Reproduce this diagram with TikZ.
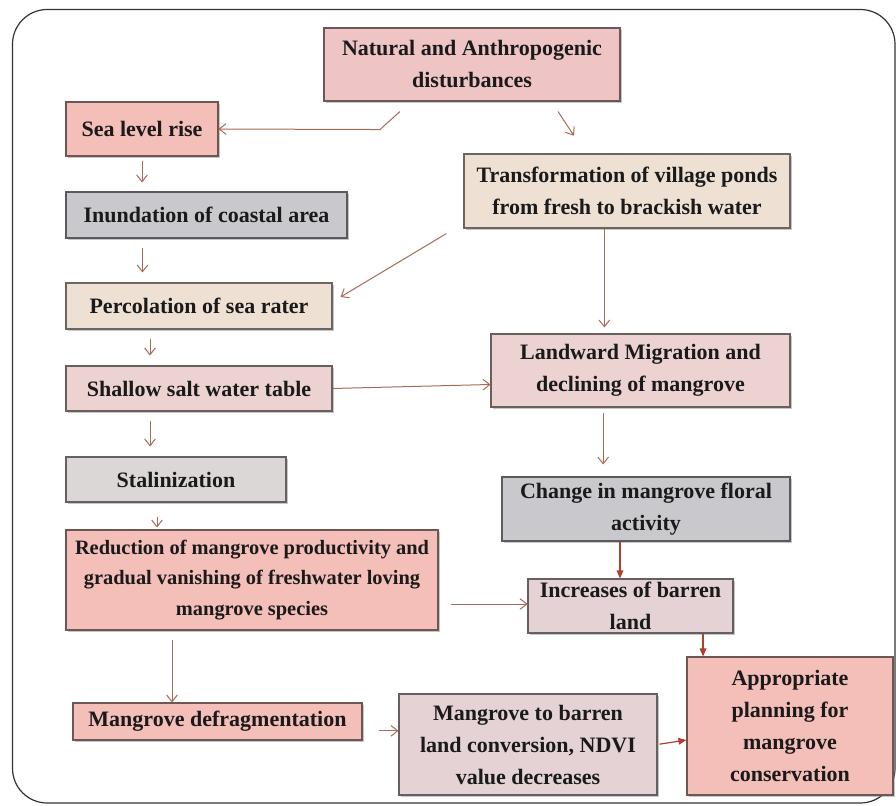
\documentclass[tikz,border=0pt]{standalone}
\usepackage{fontspec}
\setmainfont{Liberation Serif}
\usetikzlibrary{arrows.meta,shadows}
\definecolor{pinkN}{HTML}{EFC4C4}
\definecolor{pinkR}{HTML}{F4BEB9}
\definecolor{greyD}{HTML}{C8C8CD}
\definecolor{beige}{HTML}{EEE1D4}
\definecolor{pinkL}{HTML}{ECD2D0}
\definecolor{greyL}{HTML}{DCD7D7}
\definecolor{mauve}{HTML}{E4D2D4}
\definecolor{arrc}{HTML}{A56B55}
\definecolor{arrd}{HTML}{B0402C}
\definecolor{txt}{HTML}{1A1A1A}
\begin{document}
\begin{tikzpicture}[x=0.75pt,y=-0.75pt,
  font=\bfseries\fontsize{16.5}{24}\selectfont,
  box/.style n args={3}{draw=#1!45!black, fill=#1, minimum width=#2*0.75pt,
    minimum height=#3*0.75pt, align=center, inner sep=1pt, line width=0.8pt,
    text=txt, drop shadow={shadow xshift=1.3pt, shadow yshift=-1.3pt, opacity=0.45}},
  arr/.style={draw=arrc, line width=0.75pt, -{Straight Barb[length=5pt,width=8pt]}},
  arrf/.style={draw=arrd, line width=0.9pt, -{Triangle[length=6pt,width=5pt]}}]
\useasboundingbox (0,0) rectangle (896,806);
\draw[draw=black!80, line width=0.9pt, rounded corners=26pt] (12.5,9.5) rectangle (895,803);

\node[box={pinkN}{296}{73}] (nat) at (472,64.5) {Natural and Anthropogenic\\disturbances};
\node[box={pinkR}{152}{54}] (sea) at (142,129) {Sea level rise};
\node[box={greyD}{281}{46}] (inu) at (206.5,215) {Inundation of coastal area};
\node[box={beige}{326}{74}] (tra) at (627,191) {Transformation of village ponds\\from fresh to brackish water};
\node[box={beige}{266}{46}] (per) at (199,306) {Percolation of sea rater};
\node[box={pinkL}{266}{45}] (sha) at (199,388.5) {Shallow salt water table};
\node[box={pinkL}{299}{73}] (lan) at (640.5,370.5) {Landward Migration and\\declining of mangrove};
\node[box={greyL}{220}{45}] (sta) at (176,479.5) {Stalinization};
\node[box={greyD}{288}{64}] (cha) at (646,509) {Change in mangrove floral\\activity};
\node[box={pinkR}{372}{100}, font=\bfseries\fontsize{15.3}{23}\selectfont] (red) at (252,580) {Reduction of mangrove productivity and\\gradual vanishing of freshwater loving\\mangrove species};
\node[box={mauve}{205}{54}] (inc) at (630.5,606) {Increases of barren\\land};
\node[box={pinkR}{289}{37}] (def) at (217.5,721.5) {Mangrove defragmentation};
\node[box={mauve}{258}{101}] (m2b) at (528,744.5) {Mangrove to barren\\land conversion, NDVI\\value decreases};
\node[box={pinkR}{206}{138}] (app) at (790,726) {Appropriate\\planning for\\mangrove\\conservation};

% connectors
\draw[arr] ([xshift=-54pt,yshift=-7.5pt]nat.south) -- ++(-20,18) -- (sea.east);
\draw[arr, shorten >=16pt] ([xshift=64.5pt,yshift=-7.5pt]nat.south) -- ([xshift=-31pt]tra.north);
\draw[arr] ([xshift=-12.75pt,yshift=-3.75pt]tra.south west) -- ([xshift=6pt,yshift=6.75pt]per.east);
\draw[arr, shorten >=4.5pt] ([xshift=-17pt]tra.south) -- ([xshift=-17pt]tra.south |- lan.north);
\draw[arr, shorten <=3pt, shorten >=6.75pt] (sea.south) -- (sea.south |- inu.north);
\draw[arr, shorten <=6.75pt, shorten >=7.5pt] ([xshift=-48pt]inu.south) -- ([xshift=-48pt]inu.south |- per.north);
\draw[arr, shorten <=6.75pt, shorten >=7.5pt] ([xshift=-36.75pt]per.south) -- ([xshift=-36.75pt]per.south |- sha.north);
\draw[arr, shorten <=6.75pt, shorten >=7.5pt] ([xshift=-36.75pt]sha.south) -- ([xshift=-36.75pt]sha.south |- sta.north);
\draw[arr, shorten <=10.5pt, shorten >=1.5pt] ([xshift=-14.25pt]sta.south) -- ([xshift=-14.25pt]sta.south |- red.north);
\draw[arr, shorten <=6.75pt] ([xshift=-60pt]red.south) -- ([xshift=-60pt]red.south |- def.north);
\draw[arr] (sha.east) -- ([yshift=-10.5pt]lan.west);
\draw[arr, shorten <=3.75pt, shorten >=9pt] ([xshift=-28pt]lan.south) -- ([xshift=-28pt]lan.south |- cha.north);
\draw[arr, shorten <=9pt] ([yshift=-18pt]red.east) -- ([yshift=-18pt]red.east -| inc.west);
\draw[arr, shorten <=6pt] ([xshift=6pt,yshift=-7pt]def.east) -- ([yshift=-7pt]def.east -| m2b.west);
\draw[arrf] ([xshift=-19.5pt]cha.south) -- ([xshift=-19.5pt]cha.south |- inc.north);
\draw[arrf] ([xshift=54.4pt]inc.south) -- ([xshift=54.4pt]inc.south |- app.north);
\draw[arrf, shorten <=1.5pt] (m2b.east) -- ([yshift=-10.5pt]app.west);
\end{tikzpicture}
\end{document}
